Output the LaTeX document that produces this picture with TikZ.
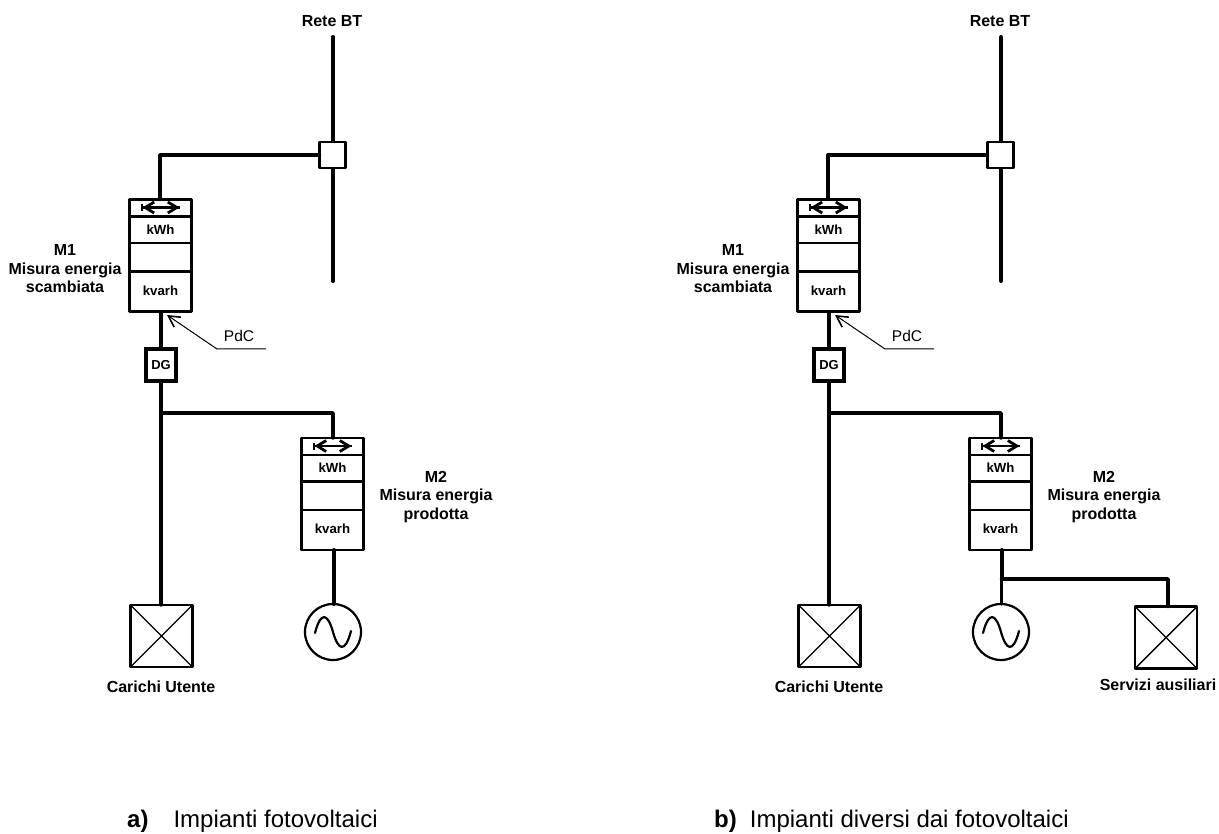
\documentclass[tikz,border=0pt]{standalone}
\usepackage{fontspec}
\setmainfont{Liberation Sans}
\usetikzlibrary{arrows.meta}
\tikzset{
  x=1pt,y=-1pt,
  bus/.style={line width=4pt,line cap=round,line join=round},
  wire/.style={line width=3.4pt,line cap=round,line join=round},
  frame/.style={line width=2.2pt,line join=round,outer sep=0pt},
  thinwire/.style={line width=1pt},
  lab/.style={font=\bfseries\fontsize{16}{18.5}\selectfont,align=center,inner sep=0pt},
  cell/.style={font=\bfseries\fontsize{13.2}{14}\selectfont,inner sep=0pt},
  captext/.style={font=\fontsize{24}{26}\selectfont,inner sep=0pt,anchor=base west},
  pdc/.style={font=\fontsize{15.5}{16}\selectfont,inner sep=0pt},
}
\newcommand{\meter}[3]{% name, left x, top y
  \node[draw,frame,minimum width=62pt,minimum height=112pt,inner sep=0pt,anchor=north west] (#1) at (#2,#3) {};
  \draw[frame] (#2,#3+17) -- (#2+62,#3+17);
  \draw[frame] (#2,#3+43.5) -- (#2+62,#3+43.5);
  \draw[frame] (#2,#3+72) -- (#2+62,#3+72);
  \node[cell] (#1-kwh) at (#2+31,#3+30) {kWh};
  \node[cell] (#1-kvarh) at (#2+31,#3+91) {kvarh};
  \coordinate (#1-a) at (#2+11,#3+8);
  \coordinate (#1-b) at (#2+50,#3+8);
  \draw[line width=2.6pt,{Bar[width=7pt,line width=2pt]}-{Straight Barb[length=9pt,width=11pt,line width=2.8pt]}] (#1-a) -- (#1-b);
  \draw[line width=2.6pt,{Straight Barb[length=9pt,width=11pt,line width=2.8pt]}-] ([xshift=2pt]#1-a) -- (#1-b);
}
\newcommand{\loadbox}[3]{%
  \node[draw,frame,minimum size=62pt,inner sep=0pt,anchor=north west] (#1) at (#2,#3) {};
  \draw[line width=1.4pt] (#1.north west) -- (#1.south east) (#1.north east) -- (#1.south west);
}
\newcommand{\gen}[3]{%
  \node[draw,frame,circle,minimum size=56pt,inner sep=0pt] (#1) at (#2,#3) {};
  \draw[line width=2.2pt,line cap=round] (#2-18,#3+1) .. controls (#2-12,#3-22) and (#2-5,#3-18) .. (#2,#3)
     .. controls (#2+5,#3+18) and (#2+12,#3+22) .. (#2+18,#3-1);
}
\newcommand{\panel}[1]{%
  \begin{scope}[xshift=#1pt]
  \node[lab] (rete) at (332,21) {Rete BT};
  \coordinate (bustop) at (333,37);
  \coordinate (busend) at (333,281);
  \draw[bus] (bustop) -- (busend);
  \node[draw,frame,fill=white,minimum size=26pt,inner sep=0pt] (sw) at (332.5,155) {};
  \meter{ma}{129.5}{199.5}
  \coordinate (corner) at (160,155);
  \draw[wire] (sw.west) -- (corner) -- (160,199.5);
  \node[lab] (mal) at (65,269) {M1\\Misura energia\\scambiata};
  \node[draw,line width=3.4pt,outer sep=0pt,minimum width=30pt,minimum height=32pt,inner sep=0pt,font=\bfseries\fontsize{13}{14}\selectfont] (dg) at (161,365) {DG};
  \draw[bus] (161,312) -- (dg.north);
  \coordinate (pa) at (217,349);
  \coordinate (pb) at (266,349);
  \coordinate (pt) at (167,315);
  \draw[thinwire,-{Straight Barb[length=11pt,width=12pt,line width=1.6pt]}] (pb) -- (pa) -- (pt);
  \node[pdc] (pdc) at (239,336) {PdC};
  \loadbox{lo}{130.5}{605}
  \draw[wire] (dg.south) -- (lo.north-|dg.south);
  \coordinate (tap) at (161,413);
  \coordinate (tapc) at (333,413);
  \meter{mb}{301.5}{438}
  \draw[wire] (tap) -- (tapc) -- (333,438);
  \node[lab] (mbl) at (436,497) {M2\\Misura energia\\prodotta};
  \node[lab] (car) at (161,687) {Carichi Utente};
  \gen{ge}{333}{632}
  \end{scope}
}
\begin{document}
\begin{tikzpicture}
\useasboundingbox (0,0) rectangle (1219,834);
\panel{0}
\draw[bus] (333.5,550) -- (333.5,604);
\panel{668}
\draw[bus] (1001.5,550) -- (1001.5,579);
\draw[wire] (1001.5,579) -- (1001.5,604);
\node[draw,frame,minimum size=62pt,inner sep=0pt,anchor=north west] (srv) at (1135,606.5) {};
\draw[line width=1.4pt] (srv.north west) -- (srv.south east) (srv.north east) -- (srv.south west);
\coordinate (sc) at (1168,579);
\draw[wire] (1001.5,579) -- (sc) -- (sc|-srv.north);
\node[lab] (srvl) at (1158,685) {Servizi ausiliari};
\node[captext] (capa) at (127,827) {\textbf{a)}\hspace{25pt}Impianti fotovoltaici};
\node[captext] (capb) at (714,827) {\textbf{b)}\hspace{13pt}Impianti diversi dai fotovoltaici};
\end{tikzpicture}
\end{document}
